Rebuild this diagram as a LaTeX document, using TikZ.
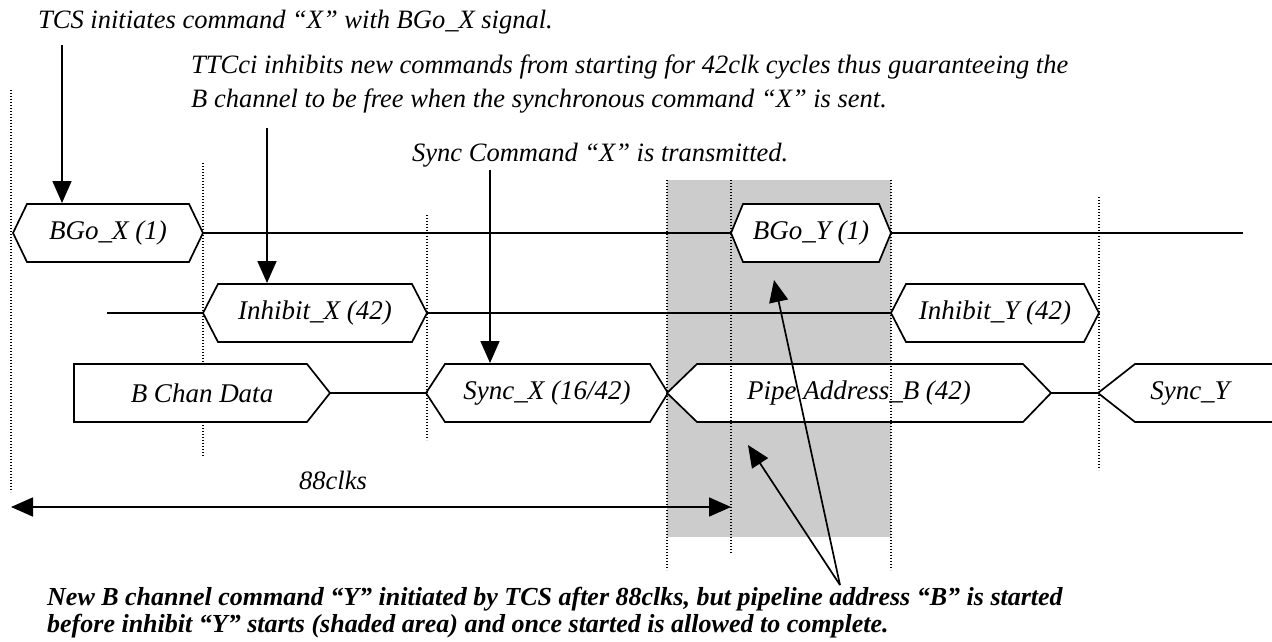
\documentclass[tikz,border=0pt]{standalone}
\usepackage{fontspec}
\setmainfont{Liberation Serif}
\usetikzlibrary{arrows.meta}

\newcommand{\notefont}{\fontsize{26.5}{34}\selectfont\itshape}
\newcommand{\sigfont}{\fontsize{27}{30}\selectfont\itshape}
% one signal box: name, x left, x right, y, left slant, right slant, label
\newcommand{\sigbox}[7]{%
  \coordinate (#1-w) at (#2,#4);
  \coordinate (#1-e) at (#3,#4);
  \draw[sigline] (#1-w) -- ++(#5,-29) -- ({#3-#6},{#4-29}) -- (#1-e)
    -- ({#3-#6},{#4+29}) -- ({#2+#5},{#4+29}) -- cycle;
  \node[siglabel] (#1) at ({(#2+#3)/2},#4) {#7};
}

\tikzset{
  sigline/.style={line width=1.7pt, fill=white},
  siglabel/.style={font=\sigfont, inner sep=0pt},
  note/.style={font=\notefont, inner sep=0pt},
  boldnote/.style={font=\fontsize{26}{27}\selectfont\bfseries\itshape, inner sep=0pt},
  guide/.style={line width=1.3pt, dash pattern=on 1.3pt off 1.7pt},
  pointer/.style={line width=1.7pt, -{Triangle[length=22pt,width=19pt]}},
  span/.style={line width=1.7pt, {Triangle[length=22pt,width=19pt]}-{Triangle[length=22pt,width=19pt]}},
  wire/.style={line width=1.7pt},
}

\begin{document}
\begin{tikzpicture}[x=1pt, y=-1pt]
\useasboundingbox (0,0) rectangle (1272,642);

% shaded area
\fill[black!20] (667,180) rectangle (891,537);

% signal boxes
\sigbox{bgox}{13}{203}{233}{14}{14}{BGo\_X (1)}
\sigbox{bgoy}{731}{891}{233}{12}{12}{BGo\_Y (1)}
\sigbox{inhx}{203}{427}{313}{15}{15}{Inhibit\_X (42)}
\sigbox{inhy}{891}{1099}{313}{15}{15}{Inhibit\_Y (42)}
\sigbox{bchan}{74}{330}{393}{0}{23}{B Chan Data}
\sigbox{syncx}{426}{668}{393}{19}{18}{Sync\_X (16/42)}
\sigbox{pipe}{667}{1051}{393}{30}{28}{Pipe Address\_B (42)}
\coordinate (syncy-w) at (1098,393);
\draw[sigline] (1272,364) -- (1135,364) -- (syncy-w) -- (1135,422) -- (1272,422);
\node[siglabel] (syncy) at (1190,393) {Sync\_Y};

% time marks
\draw[guide] (11,90) -- (11,492);
\draw[guide] (203,163) -- (203,364);
\draw[guide] (203,422) -- (203,457);
\draw[guide] (427,215) -- (427,440);
\draw[guide] (667,180) -- (667,570);
\draw[guide] (731,180) -- (731,553);
\draw[guide] (891,180) -- (891,570);
\draw[guide] (1099,197) -- (1099,470);

% idle lines
\coordinate (bgo-end) at (1243,233);
\coordinate (inh-start) at (107,313);
\draw[wire] (bgox-e) -- (bgoy-w);
\draw[wire] (bgoy-e) -- (bgo-end);
\draw[wire] (inh-start) -- (inhx-w);
\draw[wire] (inhx-e) -- (inhy-w);
\draw[wire] (bchan-e) -- (syncx-w);
\draw[wire] (pipe-e) -- (syncy-w);

% notes
\node[note, anchor=west] (tcs) at (38,22) {TCS initiates command “X” with BGo\_X signal.};
\node[note, anchor=west, align=left] (ttc) at (191,84) {TTCci inhibits new commands from starting for 42clk cycles thus guaranteeing the\\B channel to be free when the synchronous command “X” is sent.};
\node[note, anchor=west] (sync) at (412,155) {Sync Command “X” is transmitted.};
\node[boldnote, anchor=west, align=left] (newb) at (47,613) {New B channel command “Y” initiated by TCS after 88clks, but pipeline address “B” is started\\before inhibit “Y” starts (shaded area) and once started is allowed to complete.};
\node[note] (clk) at (333,480) {88clks};

\coordinate (a1) at (62,45);
\coordinate (a2) at (267,128);
\coordinate (a3) at (490,170);
\draw[pointer] (a1) -- (62,203);
\draw[pointer] (a2) -- (267,283);
\draw[pointer] (a3) -- (490,363);

\coordinate (c88l) at (11,507);
\coordinate (c88r) at (731,507);
\draw[span] (c88l) -- (c88r);

\coordinate (fan) at (840,585);
\coordinate (t-pipe) at (748,445);
\coordinate (t-bgoy) at (774,280);
\draw[pointer] (fan) -- (t-pipe);
\draw[pointer] (fan) -- (t-bgoy);
\end{tikzpicture}
\end{document}
